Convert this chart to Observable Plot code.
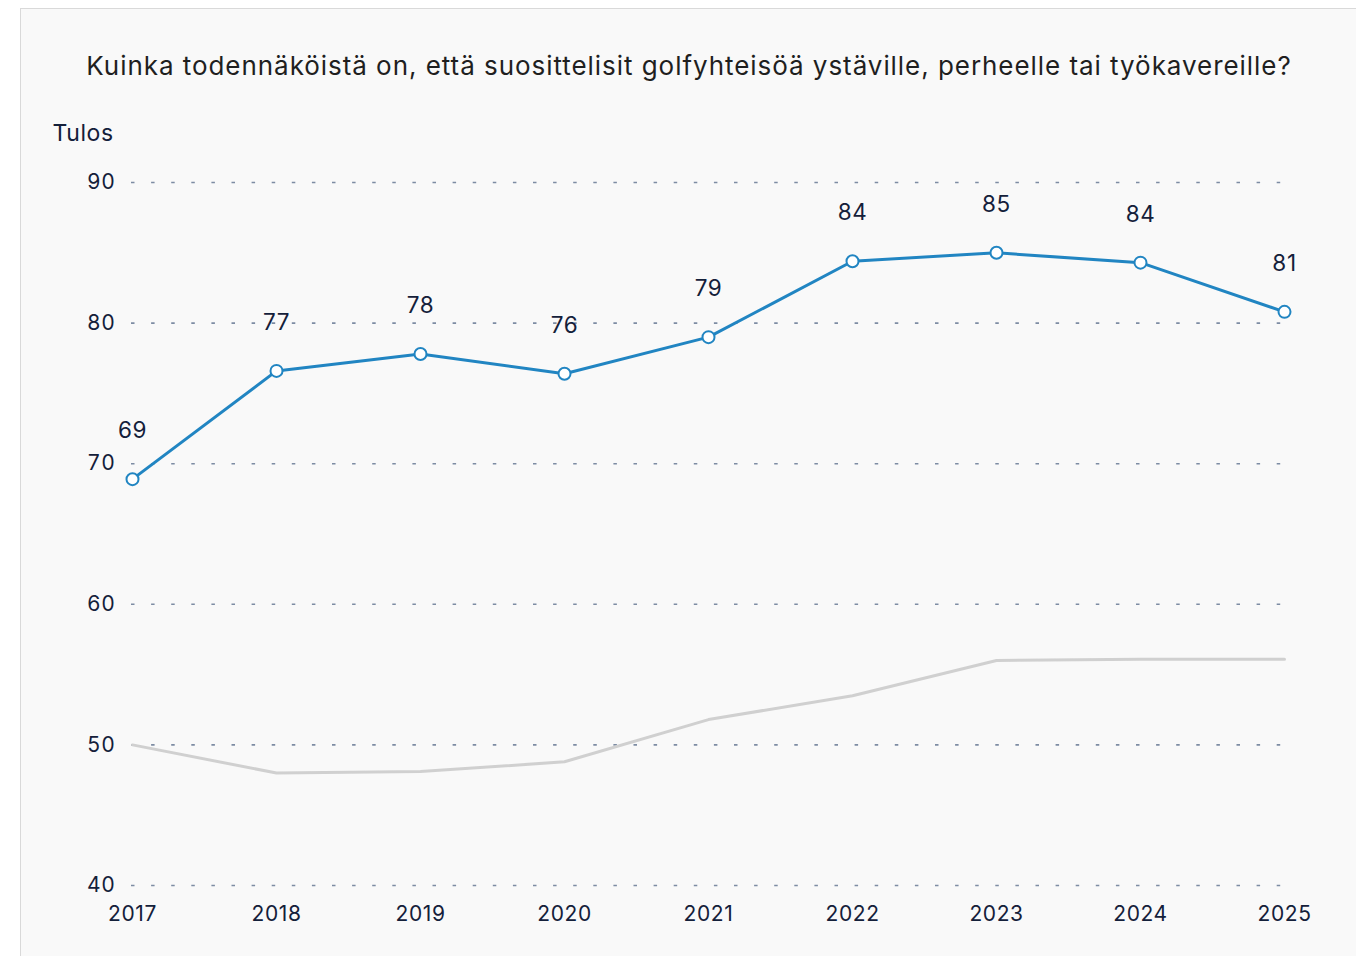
<!DOCTYPE html>
<html>
<head>
<meta charset="utf-8">
<script src="https://cdn.jsdelivr.net/npm/d3@7"></script>
<script src="https://cdn.jsdelivr.net/npm/@observablehq/plot@0.6"></script>
<style>
  html, body { margin: 0; padding: 0; background: #ffffff; overflow: hidden; }
  #panel {
    position: absolute; left: 20px; top: 8px; width: 1360px; height: 960px;
    background: #f9f9f9; border-left: 1px solid #d9d9d9; border-top: 1px solid #d9d9d9;
    font-family: Inter, "Noto Sans", sans-serif;
  }
  #title {
    position: absolute; left: 0; top: 42px; width: 1336px; text-align: center;
    font-size: 26px; line-height: 30px; color: #1f1f1f; font-weight: 400; letter-spacing: 0.95px;
  }
  #chart { position: absolute; left: 0; top: 91px; }
</style>
</head>
<body>
<div id="panel">
  <div id="title">Kuinka todennäköistä on, että suosittelisit golfyhteisöä ystäville, perheelle tai työkavereille?</div>
  <div id="chart"></div>
</div>
<script>
const years = [2017, 2018, 2019, 2020, 2021, 2022, 2023, 2024, 2025];
const tulos = [68.9, 76.6, 77.8, 76.4, 79.0, 84.4, 85.0, 84.3, 80.8];
const vertailu = [50.0, 48.0, 48.1, 48.8, 51.8, 53.5, 56.0, 56.1, 56.1];
const yTicks = [40, 50, 60, 70, 80, 90];
const yLabel = "Tulos";

const blueData = years.map((y, i) => ({year: y, value: tulos[i]}));
const grayData = years.map((y, i) => ({year: y, value: vertailu[i]}));

const textColor = "#14203a";
const blue = "#2185c2";

const chart = Plot.plot({
  width: 1336,
  height: 857,
  marginLeft: 110,
  marginRight: 72,
  marginTop: 82,
  marginBottom: 72,
  style: {background: "transparent", fontFamily: "Inter, 'Noto Sans', sans-serif", color: textColor, letterSpacing: "0.6px"},
  x: {type: "point", domain: years, padding: 0},
  y: {domain: [40, 90], ticks: yTicks},
  marks: [
    Plot.gridY(yTicks, {stroke: "#7d8ca3", strokeOpacity: 1, strokeWidth: 1.6, strokeDasharray: "3.5,16.6"}),
    Plot.axisY(yTicks, {tickSize: 0, tickPadding: 16, fontSize: 21, fill: textColor, label: null}),
    Plot.axisX(years, {tickSize: 0, tickPadding: 21, fontSize: 21, fill: textColor, label: null, tickFormat: d => String(d)}),
    Plot.text([yLabel], {frameAnchor: "top-left", text: d => d, dx: -79, dy: -49, textAnchor: "start", lineAnchor: "middle", fontSize: 23, fill: textColor}),
    Plot.line(grayData, {x: "year", y: "value", stroke: "#d0d0d0", strokeWidth: 3}),
    Plot.line(blueData, {x: "year", y: "value", stroke: blue, strokeWidth: 3}),
    Plot.dot(blueData, {x: "year", y: "value", r: 6, fill: "white", stroke: blue, strokeWidth: 2}),
    Plot.text(blueData, {x: "year", y: "value", text: d => String(Math.round(d.value)), dy: -48, fontSize: 22.5, fill: textColor, lineAnchor: "middle"})
  ]
});
document.getElementById("chart").appendChild(chart);
</script>
</body>
</html>
